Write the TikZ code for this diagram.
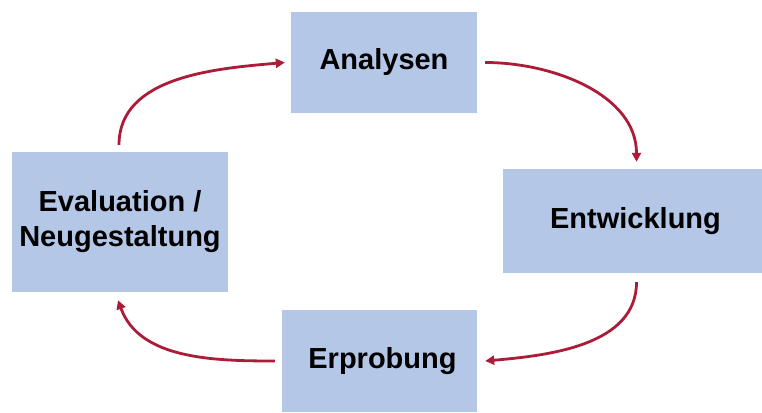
\documentclass[tikz,border=0pt]{standalone}
\usepackage{fontspec}
\setmainfont{Liberation Sans}
\usetikzlibrary{arrows.meta}
\definecolor{boxblue}{RGB}{180,199,231}
\definecolor{arrowred}{RGB}{172,27,56}
\tikzset{
  stepbox/.style={fill=boxblue, draw=none, align=center, inner sep=0pt,
    font=\fontsize{29}{35}\selectfont\bfseries},
  cyclearrow/.style={draw=arrowred, line width=2.8pt,
    -{Triangle[length=9pt,width=9pt]}}
}
\begin{document}
\begin{tikzpicture}[x=1pt,y=1pt]
\useasboundingbox (0,0) rectangle (762,412);
% y_tikz = 412 - y_px
\node[stepbox, minimum width=186pt, minimum height=101pt] (ana) at (384,349.5) {Analysen};
\node[stepbox, minimum width=259pt, minimum height=104pt] (ent) at (632.5,191) {\hspace*{6pt}Entwicklung};
\node[stepbox, minimum width=195pt, minimum height=102pt] (erp) at (379.5,51) {\hspace*{6pt}Erprobung};
\node[stepbox, minimum width=216pt, minimum height=140pt] (eva) at (120,190) {\raisebox{-4pt}{\begin{tabular}{@{}c@{}}Evaluation /\\Neugestaltung\end{tabular}}};

\draw[cyclearrow] ([xshift=-1pt,yshift=7pt]eva.north) to[out=90,in=185,looseness=0.95] ([xshift=-6pt]ana.west);
\draw[cyclearrow] ([xshift=8pt]ana.east) to[out=0,in=90,looseness=0.95] ([xshift=4pt,yshift=7pt]ent.north);
\draw[cyclearrow] ([xshift=4pt,yshift=-9pt]ent.south) to[out=-90,in=5,looseness=0.95] ([xshift=8pt]erp.east);
\draw[cyclearrow] ([xshift=-7pt]erp.west) to[out=180,in=-70,looseness=0.95] ([xshift=-2pt,yshift=-8pt]eva.south);
\end{tikzpicture}
\end{document}
